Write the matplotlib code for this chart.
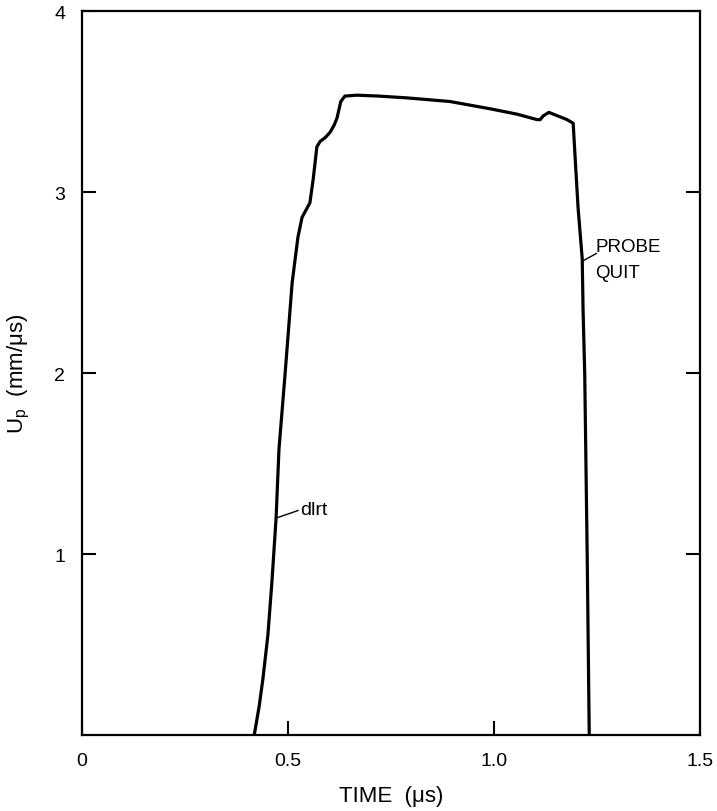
import matplotlib.pyplot as plt
import numpy as np

# particle velocity trace
time_us = [0.418, 0.430, 0.439, 0.451, 0.461, 0.471, 0.478, 0.493, 0.51, 0.524,
           0.534, 0.553, 0.561, 0.570, 0.578, 0.590, 0.602, 0.612, 0.619, 0.628,
           0.638, 0.667, 0.72, 0.789, 0.893, 0.99, 1.056, 1.104, 1.112, 1.119,
           1.133, 1.177, 1.192, 1.197, 1.204, 1.214, 1.216, 1.22, 1.226, 1.231]
up_mm_us = [0.0, 0.16, 0.31, 0.55, 0.85, 1.20, 1.58, 2.0, 2.5, 2.75,
            2.86, 2.94, 3.07, 3.25, 3.28, 3.30, 3.33, 3.37, 3.41, 3.50,
            3.53, 3.535, 3.53, 3.52, 3.50, 3.46, 3.43, 3.40, 3.40, 3.42,
            3.44, 3.40, 3.38, 3.18, 2.91, 2.63, 2.35, 2.0, 1.0, 0.0]

xticks = [0, 0.5, 1.0, 1.5]
xticklabels = ["0", "0.5", "1.0", "1.5"]
yticks = [1, 2, 3, 4]
yticklabels = ["1", "2", "3", "4"]

plt.rcParams['font.family'] = ['Liberation Sans', 'DejaVu Sans']

fig = plt.figure(figsize=(7.17, 8.12), dpi=100)
ax = fig.add_axes([0.1144, 0.0936, 0.862, 0.8916])

ax.plot(time_us, up_mm_us, color='black', lw=2.3,
        solid_joinstyle='round', solid_capstyle='round')

# annotations
ax.plot([0.473, 0.524], [1.20, 1.24], color='black', lw=1.0)
ax.text(0.530, 1.245, "dlrt", fontsize=14, va='center', ha='left')
ax.plot([1.216, 1.248], [2.62, 2.66], color='black', lw=1.0)
ax.text(1.245, 2.70, "PROBE", fontsize=13.5, va='center', ha='left')
ax.text(1.245, 2.555, "QUIT", fontsize=13.5, va='center', ha='left')

ax.set_xlim(0, 1.5)
ax.set_ylim(0, 4)
ax.set_xticks(xticks)
ax.set_xticklabels(xticklabels)
ax.set_yticks(yticks)
ax.set_yticklabels(yticklabels)
ax.tick_params(direction='in', length=10, width=1.5, labelsize=14, pad=12,
               right=True, top=False)
for s in ax.spines.values():
    s.set_linewidth(1.6)

ax.set_xlabel("TIME  (μs)", fontsize=16, labelpad=12)
ax.set_ylabel("U$_\\mathregular{p}$  (mm/μs)", fontsize=16, labelpad=16)

plt.savefig("out.png", dpi=100)
